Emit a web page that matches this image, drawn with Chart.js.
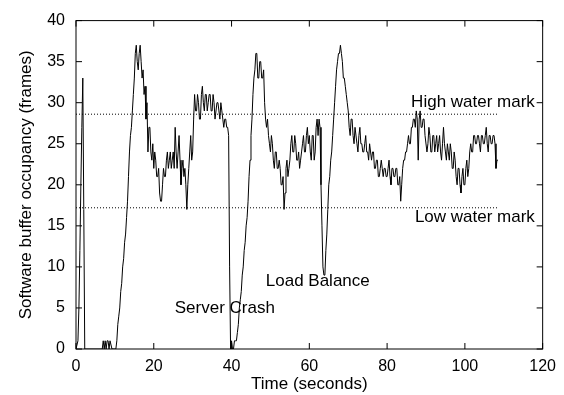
<!DOCTYPE html>
<html>
<head>
<meta charset="utf-8">
<script src="https://cdn.jsdelivr.net/npm/chart.js@4/dist/chart.umd.min.js"></script>
<style>
  html, body { margin: 0; padding: 0; background: #fff; }
  #wrap { width: 564px; height: 395px; }
</style>
</head>
<body>
<div id="wrap"><canvas id="c" width="564" height="395"></canvas></div>
<script>
// ---- data ----
const SAMPLE_STEP = 0.25; // seconds between samples
const occupancy = [
  0,0,1,5,12,20,27,33,17,0, 0,0,0,0,0,0,0,0,0,0,
  0,0,0,0,0,0,0,0,1,0, 1,0,1,1,0,1,1,0,0,0,
  0,0,1,3,4,5,7,8,10,11, 13,14,16,18,21,24,26,27,29,31,
  33,36,37,35,34,36,37,35,33,34, 31,32,28,30,24,27,27,24,23,25,
  22,24,23,21,21,22,19,18,18,20, 22,21,21,23,24,22,23,24,22,23,
  24,22,27,24,22,24,26,23,20,22, 23,21,22,20,17,20,22,24,26,23,
  24,28,31,29,29,31,30,28,28,31, 32,30,29,31,31,29,30,31,31,29,
  29,31,30,28,28,30,30,29,28,30, 29,28,27,28,28,27,27,26,10,0,
  1,0,0,1,1,1,2,3,5,6, 7,9,10,12,13,15,16,18,21,23,
  26,28,31,33,34,36,36,33,33,35, 35,33,33,34,30,28,27,28,26,25,
  24,26,25,23,22,24,24,22,22,23, 22,20,20,21,17,19,22,23,21,22,
  23,25,26,24,24,26,25,23,23,24, 22,23,24,25,26,24,24,26,27,25,
  26,24,23,26,26,23,24,27,28,26, 28,27,20,15,10,9,9,12,14,17,
  20,21,23,24,26,28,30,32,34,35, 36,36,37,36,35,33,33,32,31,30,
  29,27,26,28,28,26,25,27,27,25, 24,26,27,25,25,24,24,25,26,24,
  24,23,25,24,23,24,24,22,22,23, 23,21,21,22,23,22,21,22,22,21,
  21,22,23,21,20,22,22,21,21,22, 22,20,20,21,18,20,22,23,23,24,
  24,25,26,25,25,27,27,28,28,27, 29,28,23,28,29,27,27,28,28,26,
  26,24,25,27,26,24,24,26,26,24, 25,26,24,25,26,24,23,25,27,25,
  24,23,25,24,23,25,24,22,22,24, 23,21,20,22,22,20,19,21,22,20,
  20,22,23,21,22,24,25,24,24,26, 26,25,25,26,26,25,24,26,26,25,
  25,26,27,25,24,26,26,25,25,26, 26,25,22,23,23
];
const highWaterMark = 28.6;
const lowWaterMark = 17.2;
const markEnd = 108.6;
const xTicks = [0, 20, 40, 60, 80, 100, 120];
const yTicks = [0, 5, 10, 15, 20, 25, 30, 35, 40];
const annotations = [
  { text: "High water mark", x: 118, y: 30.0, align: "right" },
  { text: "Low water mark",  x: 118, y: 16.1, align: "right" },
  { text: "Server Crash",    x: 25.4, y: 5.0, align: "left" },
  { text: "Load Balance",    x: 48.8, y: 8.2, align: "left" }
];

const seriesPts = occupancy.map((v, i) => ({ x: i * SAMPLE_STEP, y: v }));
const FONT = "'Liberation Sans', Arial, Helvetica, sans-serif";

const boxPlugin = {
  id: 'gnuplotBox',
  afterDraw(chart) {
    const { ctx, chartArea: a, scales } = chart;
    const xs = scales.x, ys = scales.y;
    ctx.save();
    ctx.strokeStyle = '#000';
    ctx.lineWidth = 1;
    ctx.strokeRect(a.left, a.top, a.right - a.left, a.bottom - a.top);
    const L = 6;
    ctx.beginPath();
    xTicks.forEach(t => {
      const px = xs.getPixelForValue(t);
      ctx.moveTo(px, a.bottom); ctx.lineTo(px, a.bottom - L);
      ctx.moveTo(px, a.top); ctx.lineTo(px, a.top + L);
    });
    yTicks.forEach(t => {
      const py = ys.getPixelForValue(t);
      ctx.moveTo(a.left, py); ctx.lineTo(a.left + L, py);
      ctx.moveTo(a.right, py); ctx.lineTo(a.right - L, py);
    });
    ctx.stroke();
    ctx.fillStyle = '#000';
    ctx.font = "17px " + FONT;
    ctx.textBaseline = 'middle';
    annotations.forEach(an => {
      ctx.textAlign = an.align;
      ctx.fillText(an.text, xs.getPixelForValue(an.x), ys.getPixelForValue(an.y));
    });
    ctx.restore();
  }
};

new Chart(document.getElementById('c'), {
  type: 'line',
  data: {
    datasets: [
      {
        data: seriesPts,
        borderColor: '#000',
        borderWidth: 1,
        pointRadius: 0,
        tension: 0,
        fill: false
      },
      {
        data: [{ x: 0, y: highWaterMark }, { x: markEnd, y: highWaterMark }],
        borderColor: '#000',
        borderWidth: 1,
        borderDash: [1, 2],
        pointRadius: 0,
        fill: false
      },
      {
        data: [{ x: 0, y: lowWaterMark }, { x: markEnd, y: lowWaterMark }],
        borderColor: '#000',
        borderWidth: 1,
        borderDash: [1, 2],
        pointRadius: 0,
        fill: false
      }
    ]
  },
  options: {
    responsive: false,
    animation: false,
    events: [],
    layout: { padding: { top: 18, right: 16, left: 0, bottom: 0 } },
    plugins: { legend: { display: false }, tooltip: { enabled: false } },
    scales: {
      x: {
        type: 'linear',
        min: 0, max: 120,
        afterBuildTicks: s => { s.ticks = xTicks.map(v => ({ value: v })); },
        afterFit: s => { s.height = 46; },
        grid: { display: false, drawTicks: false },
        border: { display: false },
        ticks: { color: '#000', padding: 8, font: { family: FONT, size: 16 }, maxRotation: 0 },
        title: { display: true, text: 'Time (seconds)', color: '#000',
                 font: { family: FONT, size: 17, lineHeight: 1.2 }, padding: { top: 0, bottom: 0 } }
      },
      y: {
        type: 'linear',
        min: 0, max: 40,
        afterBuildTicks: s => { s.ticks = yTicks.map(v => ({ value: v })); },
        afterFit: s => { s.width = 76; },
        grid: { display: false, drawTicks: false },
        border: { display: false },
        ticks: { color: '#000', padding: 11, font: { family: FONT, size: 16 } },
        title: { display: true, text: 'Software buffer occupancy (frames)', color: '#000',
                 font: { family: FONT, size: 17, lineHeight: 1.2 }, padding: { top: 16, bottom: 0 } }
      }
    }
  },
  plugins: [boxPlugin]
});
</script>
</body>
</html>
